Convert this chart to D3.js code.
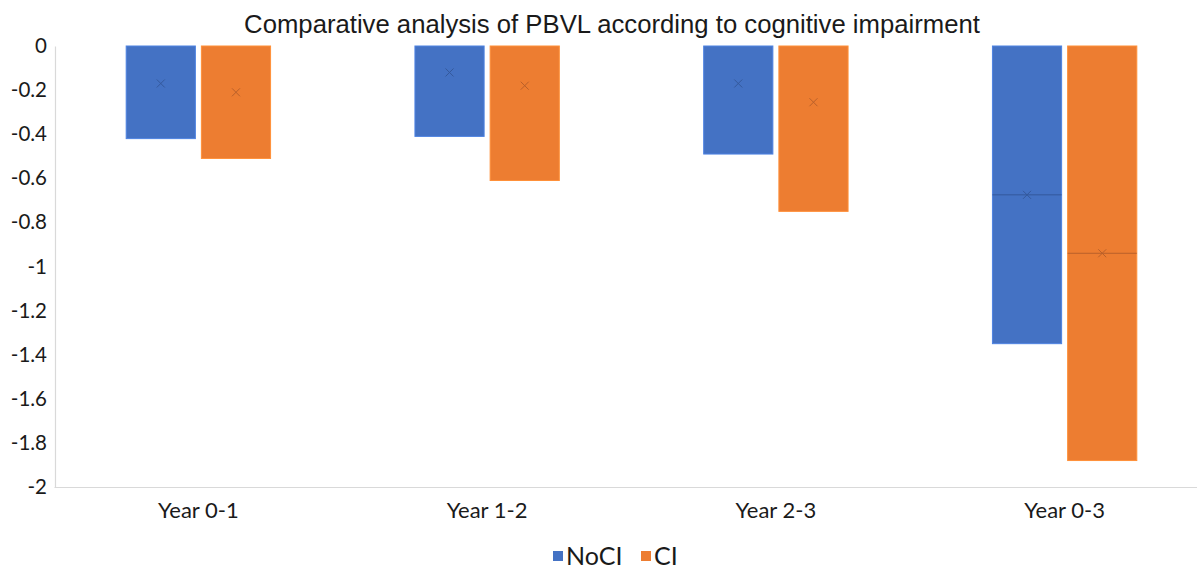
<!DOCTYPE html>
<html>
<head>
<meta charset="utf-8">
<script src="https://cdn.jsdelivr.net/npm/d3@7"></script>
<style>
  html, body { margin: 0; padding: 0; background: #fff; }
  svg { display: block; }
</style>
</head>
<body>
<svg id="chart" width="1197" height="569"></svg>
<script>
const categories = ["Year 0-1", "Year 1-2", "Year 2-3", "Year 0-3"];
const series = ["NoCI", "CI"];
const noCITop = [0, 0, 0, 0];
const ciTop = [0, 0, 0, 0];
const noCIBottom = [-0.42, -0.41, -0.49, -1.35];
const ciBottom = [-0.51, -0.61, -0.75, -1.88];
const noCIMean = [-0.17, -0.12, -0.17, -0.675];
const ciMean = [-0.21, -0.18, -0.255, -0.94];
const noCIMedian = [null, null, null, -0.675];
const ciMedian = [null, null, null, -0.94];
const tickValues = [0, -0.2, -0.4, -0.6, -0.8, -1, -1.2, -1.4, -1.6, -1.8, -2];
const tickLabels = ["0", "-0.2", "-0.4", "-0.6", "-0.8", "-1", "-1.2", "-1.4", "-1.6", "-1.8", "-2"];
const title = "Comparative analysis of PBVL according to cognitive impairment";

const colors = { NoCI: "#4472C4", CI: "#ED7D31" };
const markColors = { NoCI: "#34599C", CI: "#B9602A" };

const data = [];
categories.forEach((c, i) => {
  data.push({ cat: c, s: "NoCI", top: noCITop[i], bottom: noCIBottom[i], mean: noCIMean[i], median: noCIMedian[i] });
  data.push({ cat: c, s: "CI", top: ciTop[i], bottom: ciBottom[i], mean: ciMean[i], median: ciMedian[i] });
});

const svg = d3.select("#chart");
const font = "Lato, 'Open Sans', sans-serif";

const y = d3.scaleLinear().domain([-2, 0]).range([487, 46]);
const x0 = d3.scaleBand().domain(categories).range([54, 1209]).paddingInner(0.5).paddingOuter(0.25);
const x1 = d3.scaleBand().domain(series).range([0, x0.bandwidth()]).paddingInner(0.08);

// title
svg.append("text")
  .attr("x", 612).attr("y", 33)
  .attr("text-anchor", "middle")
  .attr("font-family", "'Liberation Sans', Arial, sans-serif")
  .attr("font-size", 25.7)
  .attr("fill", "#1a1a1a")
  .text(title);

// y axis
const yAxis = d3.axisLeft(y).tickValues(tickValues).tickFormat((d, i) => tickLabels[i]).tickSize(0).tickPadding(8);
const gy = svg.append("g").attr("transform", "translate(55,0)").call(yAxis);
gy.select(".domain").attr("stroke", "#d9d9d9").attr("stroke-width", 1.2);
gy.selectAll("text").attr("font-family", font).attr("font-size", 20.5).attr("fill", "#1a1a1a");

// x axis
const xAxis = d3.axisBottom(x0).tickSize(0).tickPadding(15);
const gx = svg.append("g").attr("transform", "translate(0,487)").call(xAxis);
gx.select(".domain").attr("stroke", "#d9d9d9").attr("stroke-width", 1.2);
gx.selectAll("text").attr("font-family", font).attr("font-size", 22).attr("fill", "#1a1a1a");

// bars
const g = svg.append("g");
const groups = g.selectAll("g.bar").data(data).join("g")
  .attr("transform", d => `translate(${x0(d.cat) + x1(d.s)},0)`);

groups.append("rect")
  .attr("x", 0)
  .attr("y", d => y(d.top))
  .attr("width", x1.bandwidth())
  .attr("height", d => y(d.bottom) - y(d.top))
  .attr("fill", d => colors[d.s])
  .attr("stroke", d => d3.color(colors[d.s]).brighter(0.4))
  .attr("stroke-width", 1);

groups.filter(d => d.median !== null).append("line")
  .attr("x1", 0).attr("x2", x1.bandwidth())
  .attr("y1", d => y(d.median)).attr("y2", d => y(d.median))
  .attr("stroke", d => markColors[d.s])
  .attr("stroke-width", 1);

const ms = 4;
groups.append("path")
  .attr("d", d => {
    const cx = x1.bandwidth() / 2, cy = y(d.mean);
    return `M${cx - ms},${cy - ms}L${cx + ms},${cy + ms}M${cx - ms},${cy + ms}L${cx + ms},${cy - ms}`;
  })
  .attr("stroke", d => markColors[d.s])
  .attr("stroke-width", 1)
  .attr("fill", "none");

// legend
const legend = svg.append("g").attr("transform", "translate(553,551)");
const lx = [0, 88];
series.forEach((s, i) => {
  const lg = legend.append("g").attr("transform", `translate(${lx[i]},0)`);
  lg.append("rect").attr("x", 0).attr("y", 0).attr("width", 10).attr("height", 10).attr("fill", colors[s]);
  lg.append("text").attr("x", 13).attr("y", 14)
    .attr("font-family", font).attr("font-size", 25).attr("fill", "#1a1a1a")
    .text(s);
});
</script>
</body>
</html>
